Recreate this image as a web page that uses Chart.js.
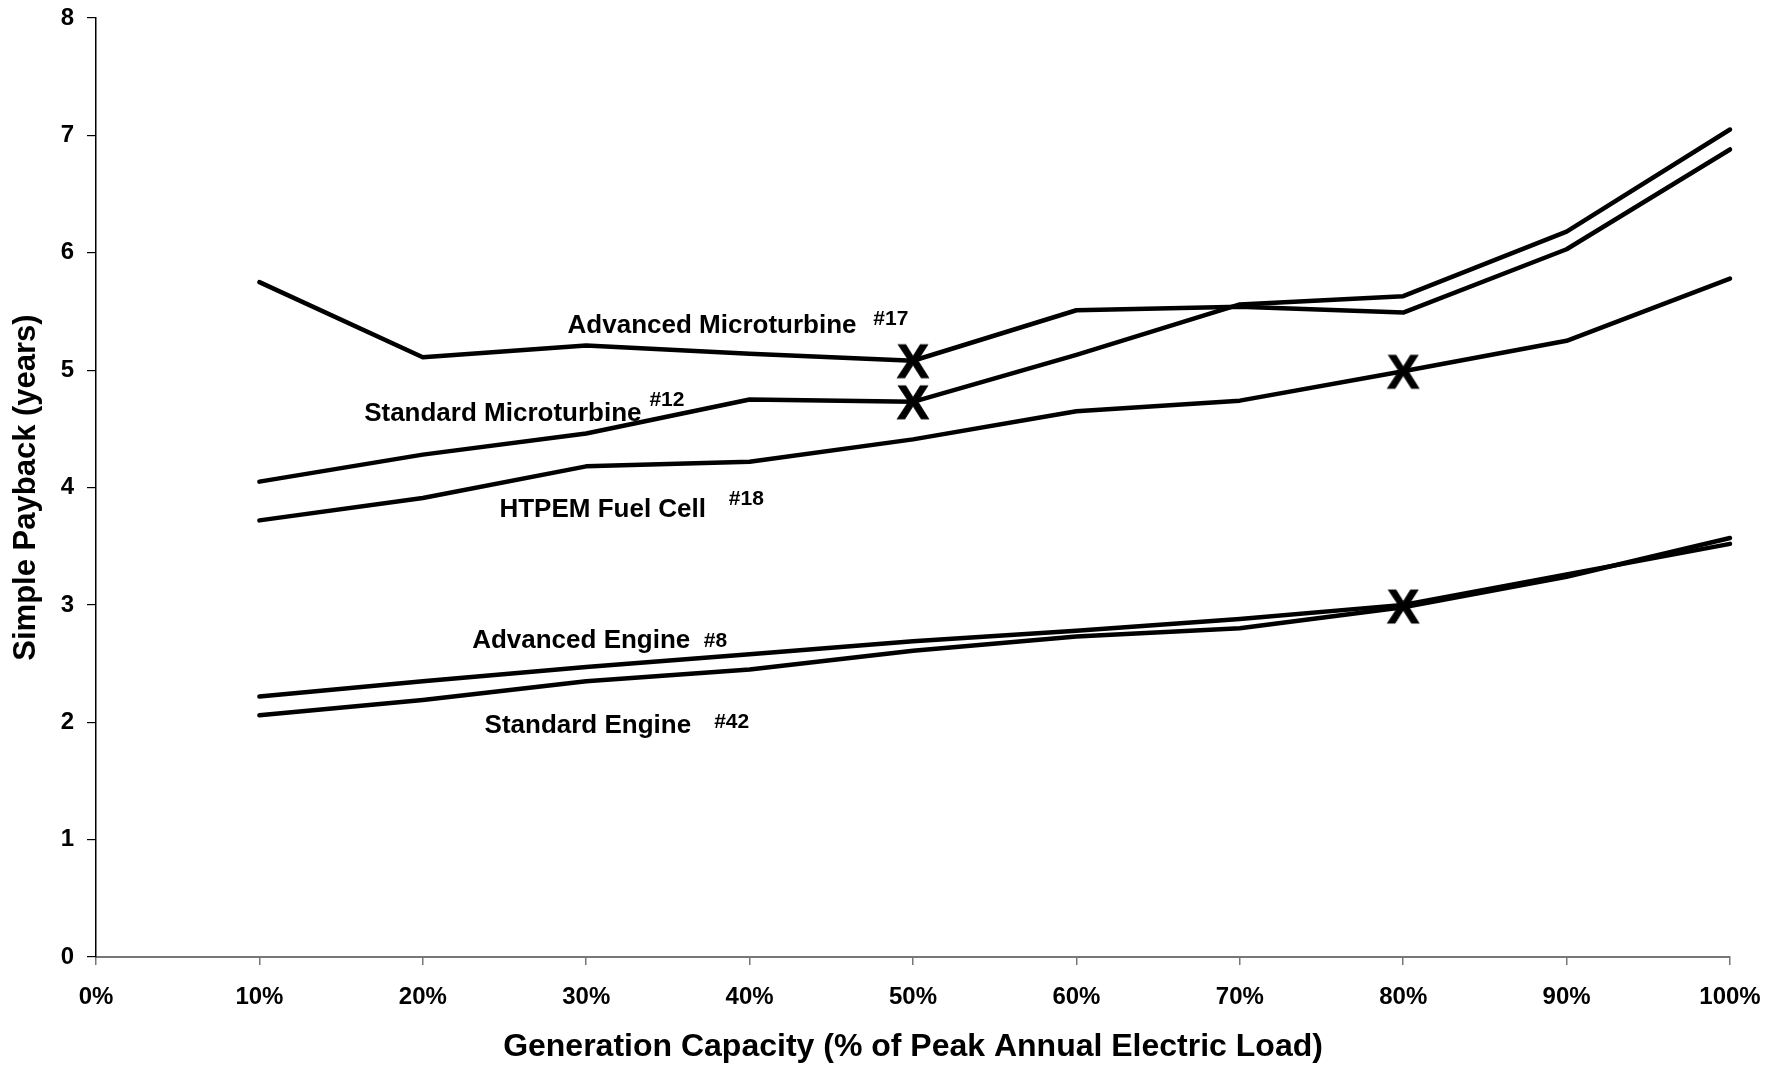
<!DOCTYPE html>
<html>
<head>
<meta charset="utf-8">
<script src="https://cdn.jsdelivr.net/npm/chart.js@4.4.1/dist/chart.umd.min.js"></script>
<style>
  html, body { margin: 0; padding: 0; background: #fff; }
  #wrap { width: 1782px; height: 1067px; position: relative; }
</style>
</head>
<body>
<div id="wrap"><canvas id="c"></canvas></div>
<script>
// ---- data ----
const capacities = [10, 20, 30, 40, 50, 60, 70, 80, 90, 100];
const advancedMicroturbine = [5.75, 5.11, 5.21, 5.14, 5.08, 5.51, 5.54, 5.49, 6.03, 6.88];
const standardMicroturbine = [4.05, 4.28, 4.46, 4.75, 4.73, 5.13, 5.56, 5.63, 6.18, 7.05];
const htpemFuelCell        = [3.72, 3.91, 4.18, 4.22, 4.41, 4.65, 4.74, 4.99, 5.25, 5.78];
const advancedEngine       = [2.22, 2.35, 2.47, 2.58, 2.69, 2.78, 2.88, 3.00, 3.26, 3.52];
const standardEngine       = [2.06, 2.19, 2.35, 2.45, 2.61, 2.73, 2.80, 2.98, 3.24, 3.57];
const markerX = [50, 50, 80, 80];
const markerY = [5.08, 4.73, 4.99, 2.99];
const xTickLabels = ['0%','10%','20%','30%','40%','50%','60%','70%','80%','90%','100%'];

const FONT = "'Liberation Sans', Arial, sans-serif";

// label annotations (anchor in data units, left aligned, vertically centred)
const labels = [
  { text: 'Advanced Microturbine', x: 28.86, y: 5.38, size: 26 },
  { text: '#17', x: 47.57, y: 5.43, size: 21 },
  { text: 'Standard Microturbine', x: 16.41, y: 4.63, size: 26 },
  { text: '#12', x: 33.87, y: 4.74, size: 21 },
  { text: 'HTPEM Fuel Cell', x: 24.69, y: 3.81, size: 26 },
  { text: '#18', x: 38.73, y: 3.90, size: 21 },
  { text: 'Advanced Engine', x: 23.02, y: 2.69, size: 26 },
  { text: '#8', x: 37.2, y: 2.69, size: 21 },
  { text: 'Standard Engine', x: 23.78, y: 1.97, size: 26 },
  { text: '#42', x: 37.83, y: 2.00, size: 21 }
];

function toPoints(ys) { return capacities.map((c, i) => ({ x: c, y: ys[i] })); }

// "X" marker image
const xImg = document.createElement('canvas');
xImg.width = 56; xImg.height = 56;
(function () {
  const g = xImg.getContext('2d');
  g.fillStyle = '#000';
  g.strokeStyle = '#000';
  g.lineWidth = 1;
  g.font = 'bold 48px ' + FONT;
  g.textAlign = 'center';
  g.textBaseline = 'alphabetic';
  g.fillText('X', 28, 28 + 17);
  g.strokeText('X', 28, 28 + 17);
})();

const lineStyle = {
  borderColor: '#000', borderWidth: 4.5, pointRadius: 0, pointHoverRadius: 0,
  fill: false, tension: 0, borderJoinStyle: 'round', borderCapStyle: 'round', clip: false
};

const labelPlugin = {
  id: 'seriesLabels',
  afterDatasetsDraw(chart) {
    const { ctx, scales } = chart;
    ctx.save();
    ctx.fillStyle = '#000';
    ctx.textAlign = 'left';
    ctx.textBaseline = 'middle';
    labels.forEach(l => {
      ctx.font = 'bold ' + l.size + 'px ' + FONT;
      ctx.fillText(l.text, scales.x.getPixelForValue(l.x), scales.y.getPixelForValue(l.y));
    });
    ctx.restore();
  }
};

new Chart(document.getElementById('c'), {
  type: 'line',
  data: {
    datasets: [
      Object.assign({ label: 'Advanced Microturbine #17', data: toPoints(advancedMicroturbine) }, lineStyle),
      Object.assign({ label: 'Standard Microturbine #12', data: toPoints(standardMicroturbine) }, lineStyle),
      Object.assign({ label: 'HTPEM Fuel Cell #18', data: toPoints(htpemFuelCell) }, lineStyle),
      Object.assign({ label: 'Advanced Engine #8', data: toPoints(advancedEngine) }, lineStyle),
      Object.assign({ label: 'Standard Engine #42', data: toPoints(standardEngine) }, lineStyle),
      {
        label: 'Selected', type: 'scatter', clip: false,
        data: markerX.map((x, i) => ({ x: x, y: markerY[i] })),
        pointStyle: xImg, pointRadius: 24, pointHoverRadius: 24, showLine: false
      }
    ]
  },
  options: {
    responsive: true, maintainAspectRatio: false, animation: false,
    layout: { autoPadding: false, padding: { left: 0, right: 52, top: 18, bottom: 0 } },
    plugins: { legend: { display: false }, tooltip: { enabled: false }, title: { display: false } },
    scales: {
      x: {
        type: 'linear', min: 0, max: 100,
        afterFit: s => { s.height = 110; s.paddingLeft = 0; s.paddingRight = 0; },
        afterBuildTicks: s => { s.ticks = xTickLabels.map((t, i) => ({ value: i * 10 })); },
        ticks: {
          callback: (v, i) => xTickLabels[i],
          color: '#000', font: { family: FONT, size: 24, weight: 'bold' },
          padding: 18, maxRotation: 0, autoSkip: false
        },
        grid: { drawOnChartArea: false, drawTicks: true, tickLength: 8, color: '#777', lineWidth: 1.5 },
        border: { display: true, color: '#777', width: 2 },
        title: {
          display: true, text: 'Generation Capacity (% of Peak Annual Electric Load)',
          color: '#000', font: { family: FONT, size: 32, weight: 'bold' },
          padding: { top: 0, bottom: 1 }
        }
      },
      y: {
        type: 'linear', min: 0, max: 8,
        afterFit: s => { s.width = 96; s.paddingTop = 0; s.paddingBottom = 0; },
        ticks: {
          stepSize: 1, color: '#000', font: { family: FONT, size: 24, weight: 'bold' }, padding: 13
        },
        grid: { drawOnChartArea: false, drawTicks: true, tickLength: 9, color: '#000', lineWidth: 1.2 },
        border: { display: true, color: '#000', width: 1.5 },
        title: {
          display: true, text: 'Simple Payback (years)',
          color: '#000', font: { family: FONT, size: 31, weight: 'bold' },
          padding: { top: 8, bottom: 0 }
        }
      }
    }
  },
  plugins: [labelPlugin]
});
</script>
</body>
</html>
